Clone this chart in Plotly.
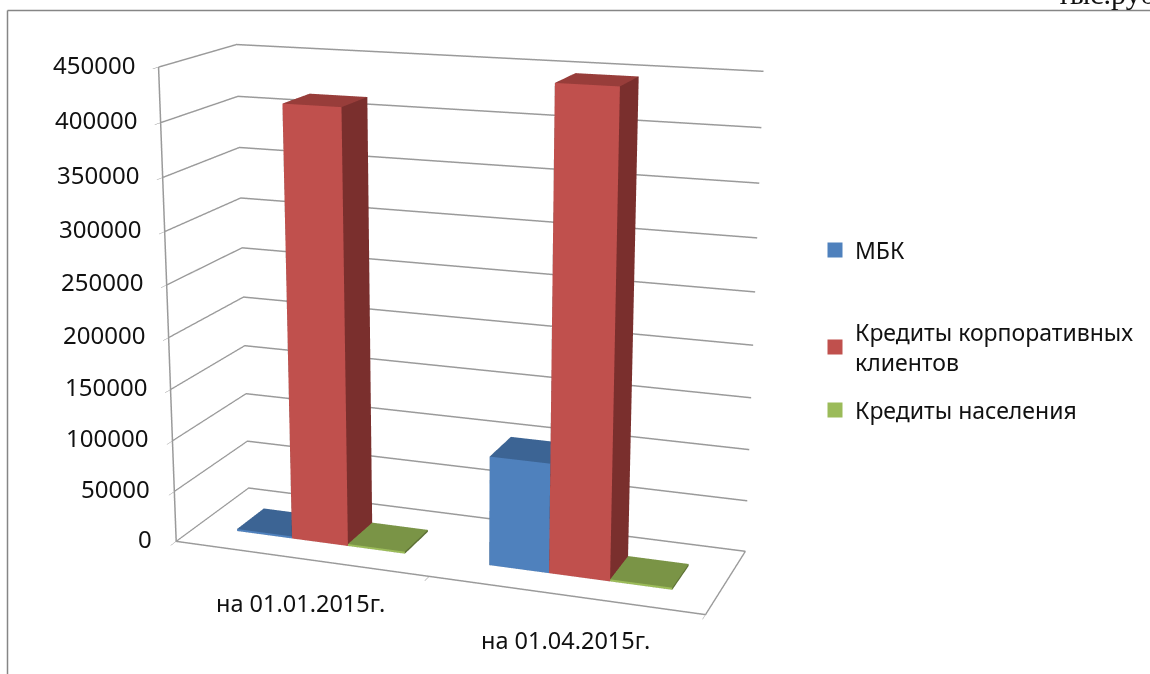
import plotly.graph_objects as go

categories = ["на 01.01.2015г.", "на 01.04.2015г."]
series_names = ["МБК", "Кредиты корпоративных<br>клиентов", "Кредиты населения"]
mbk = [2000, 105000]
corporate = [416000, 448000]
retail = [2000, 2000]
z_ticks = [0, 50000, 100000, 150000, 200000, 250000, 300000, 350000, 400000, 450000]
front_colors = ["#4f81bd", "#c0504d", "#9bbb59"]
side_colors = ["#2f4d71", "#7a2f2d", "#5d7035"]
top_colors = ["#3c6494", "#983d3a", "#7a9446"]
FONT = "Noto Sans"
GRID = "#9a9a9a"

# The 3D viewport is larger than the window so that the narrow field of view
# of the original perspective can be reached; the page shifts it into place.
FIG_W, FIG_H = 1600, 1740
SCENE_W = 1300
LEFT, TOP = -191, -555


def px(x):
    return (x - LEFT) / FIG_W


def py(y):
    return 1 - (y - TOP) / FIG_H


BAR_W = 0.225
BAR_GAP_SIDE = 0.165
Y0, Y1 = 0.28, 0.66


def box(x0, x1, y0, y1, z1):
    xs = [x0, x1, x1, x0, x0, x1, x1, x0]
    ys = [y0, y0, y1, y1, y0, y0, y1, y1]
    zs = [0, 0, 0, 0, z1, z1, z1, z1]
    i = [0, 0, 1, 1, 4, 4, 3, 3, 0, 0, 2, 2]
    j = [1, 5, 2, 6, 5, 6, 2, 6, 3, 7, 1, 0]
    k = [5, 4, 6, 5, 6, 7, 6, 7, 7, 4, 0, 3]
    return xs, ys, zs, i, j, k


fig = go.Figure()
legend_ids = ["legend", "legend2", "legend3"]
for s, vals in enumerate([mbk, corporate, retail]):
    X, Y, Z, I, J, K, FC = [], [], [], [], [], [], []
    for c, v in enumerate(vals):
        x0 = c + BAR_GAP_SIDE + s * BAR_W
        xs, ys, zs, i, j, k = box(x0, x0 + BAR_W, Y0, Y1, v)
        off = len(X)
        X += xs; Y += ys; Z += zs
        I += [a + off for a in i]; J += [a + off for a in j]; K += [a + off for a in k]
        FC += [front_colors[s]] * 2 + [side_colors[s]] * 2 + [top_colors[s]] * 2 + [side_colors[s]] * 6
    fig.add_trace(go.Mesh3d(
        x=X, y=Y, z=Z, i=I, j=J, k=K, facecolor=FC, flatshading=True,
        lighting=dict(ambient=1, diffuse=0, specular=0, roughness=1, fresnel=0),
        name=series_names[s], showlegend=False, showscale=False, hoverinfo="skip",
    ))
    fig.add_trace(go.Scatter(x=[None], y=[None], mode="markers", name=series_names[s], legend=legend_ids[s],
                             marker=dict(symbol="square", size=15, color=front_colors[s])))

# value axis line at the front-left corner
fig.add_trace(go.Scatter3d(x=[0, 0], y=[0, 0], z=[z_ticks[0], z_ticks[-1]], mode="lines",
                           line=dict(color=GRID, width=3), showlegend=False, hoverinfo="skip"))

scene_notes = [dict(x=0, y=0, z=v, text=str(v), showarrow=False, xanchor="right", yanchor="middle", xshift=-22, yshift=3,
                    font=dict(family=FONT, size=24, color="#111")) for v in z_ticks]
scene_notes += [dict(x=c + 0.5, y=0, z=0, text=t, showarrow=False, xanchor="center", yanchor="middle", xshift=1, yshift=-45,
                     font=dict(family=FONT, size=23.5, color="#111")) for c, t in enumerate(categories)]

common = dict(showbackground=False, showspikes=False, title="", zeroline=False, showticklabels=False)
fig.update_layout(
    width=FIG_W, height=FIG_H, margin=dict(l=0, r=0, t=0, b=0),
    paper_bgcolor="white", plot_bgcolor="white", font=dict(family=FONT, size=15, color="#111"),
    xaxis=dict(visible=False), yaxis=dict(visible=False),
    scene=dict(
        domain=dict(x=[0, SCENE_W / FIG_W], y=[0, 1]),
        aspectmode="manual", aspectratio=dict(x=1.0, y=0.31, z=0.88),
        camera=dict(eye=dict(x=1.235, y=-3.40, z=0.97), center=dict(x=0, y=0, z=0), up=dict(x=0, y=0, z=1),
                    projection=dict(type="perspective")),
        annotations=scene_notes,
        xaxis=dict(range=[0, 2], tickmode="array", tickvals=[0, 1, 2], ticks="outside", ticklen=6, tickcolor=GRID,
                   showgrid=False, showline=True, linecolor=GRID, linewidth=3, **common),
        yaxis=dict(range=[0, 1], showgrid=False, showline=True, linecolor=GRID, linewidth=3, ticks="", **common),
        zaxis=dict(range=[0, 450000], tickmode="array", tickvals=z_ticks,
                   showgrid=True, gridcolor=GRID, gridwidth=3, showline=True, linecolor=GRID, linewidth=3, ticks="outside",
                   ticklen=6, tickcolor=GRID, **common),
    ),
    legend=dict(x=px(815), y=py(250), xanchor="left", yanchor="middle", bgcolor="rgba(0,0,0,0)", font=dict(size=23)),
    legend2=dict(x=px(815), y=py(347), xanchor="left", yanchor="middle", bgcolor="rgba(0,0,0,0)", font=dict(size=23)),
    legend3=dict(x=px(815), y=py(410), xanchor="left", yanchor="middle", bgcolor="rgba(0,0,0,0)", font=dict(size=23)),
    shapes=[
        dict(type="line", xref="paper", yref="paper", x0=px(7.5), x1=px(1150), y0=py(10.5), y1=py(10.5), line=dict(color="#868686", width=1.5)),
        dict(type="line", xref="paper", yref="paper", x0=px(7.5), x1=px(7.5), y0=py(674), y1=py(10.5), line=dict(color="#868686", width=1.5)),
    ],
    annotations=[dict(text="тыс.руб", xref="paper", yref="paper", x=px(1055), y=py(12), xanchor="left", yanchor="bottom", showarrow=False,
                      font=dict(family="Liberation Serif", size=30, color="#111"))],
)
post = (f"document.documentElement.style.overflow='hidden';document.body.style.margin='0';document.body.style.overflow='hidden';"
        f"var g=document.querySelector('.plotly-graph-div');g.style.position='absolute';g.style.left='{LEFT}px';g.style.top='{TOP}px';")
fig.write_html("out.html", post_script=post)
